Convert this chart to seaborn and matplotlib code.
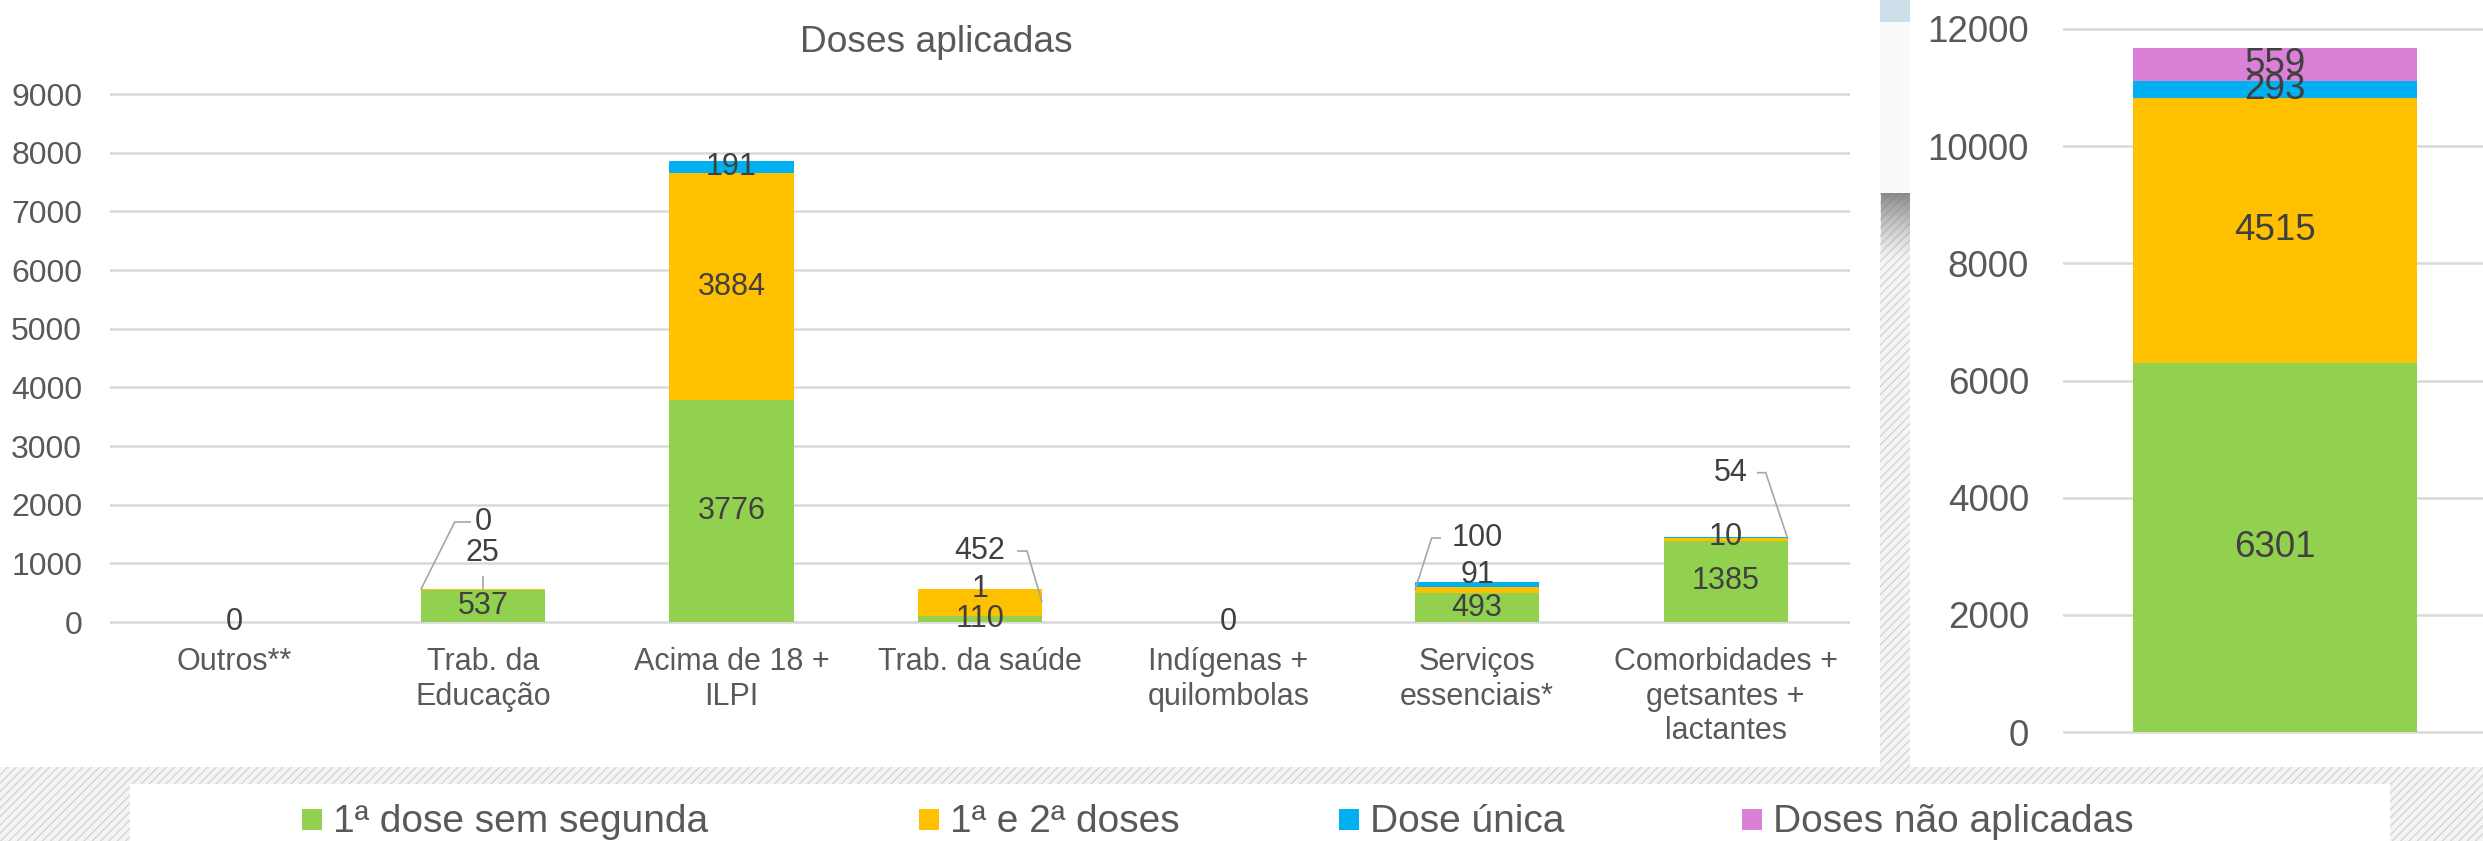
import numpy as np
import pandas as pd
import matplotlib
matplotlib.use("Agg")
import matplotlib.pyplot as plt
from matplotlib.patches import Rectangle
import seaborn as sns

# ---- data -------------------------------------------------------------
categories = [
    "Outros**",
    "Trab. da\nEducação",
    "Acima de 18 +\nILPI",
    "Trab. da saúde",
    "Indígenas +\nquilombolas",
    "Serviços\nessenciais*",
    "Comorbidades +\ngetsantes +\nlactantes",
]
primeira_sem_segunda = [0, 537, 3776, 110, 0, 493, 1385]
primeira_e_segunda = [0, 25, 3884, 452, 0, 100, 54]
dose_unica = [0, 0, 191, 1, 0, 91, 10]

total_category = ["Total"]
total_primeira = [6301]
total_ambas = [4515]
total_unica = [293]
total_nao_aplicadas = [559]

series_names = ["1ª dose sem segunda", "1ª e 2ª doses", "Dose única", "Doses não aplicadas"]
series_colors = ["#92D050", "#FFC000", "#00B0F0", "#DA80D6"]

title = "Doses aplicadas"
left_ticks = list(range(0, 9001, 1000))
right_ticks = list(range(0, 12001, 2000))

# ---- style ------------------------------------------------------------
sns.set_theme(style="white")
plt.rcParams["font.family"] = ["Liberation Sans", "DejaVu Sans"]
plt.rcParams["hatch.linewidth"] = 0.9

TICK_C = "#595959"
LABEL_C = "#404040"
GRID_C = "#d9d9d9"
LEADER_C = "#a6a6a6"

W, H = 2483, 841
fig = plt.figure(figsize=(W / 100, H / 100), dpi=100)
fig.patch.set_facecolor("white")


def px_box(x0, y0, x1, y1):
    """Figure-fraction box from pixel corners measured from the top-left."""
    return [x0 / W, 1 - y1 / H, (x1 - x0) / W, (y1 - y0) / H]


def bg_rect(x0, y0, x1, y1, z, **kw):
    b = px_box(x0, y0, x1, y1)
    fig.add_artist(Rectangle((b[0], b[1]), b[2], b[3], transform=fig.transFigure,
                             zorder=z, **kw))


# slide background: light diagonal hatch with white panels on top
bg_rect(0, 0, W, H, -30, facecolor="#f5f5f5", edgecolor="#d2d2d2", hatch="////", linewidth=0)
bg_rect(0, 0, 1880, 767, -20, facecolor="white", edgecolor="none")
bg_rect(1910, 0, W, 767, -20, facecolor="white", edgecolor="none")
bg_rect(130, 784, 2390, H, -20, facecolor="white", edgecolor="none")
bg_rect(1880, 0, 1910, 22, -20, facecolor="#cfdfea", edgecolor="none")
bg_rect(1880, 22, 1910, 193, -20, facecolor="#fafafa", edgecolor="none")

# dark shading fading down the divider strip
gax = fig.add_axes(px_box(1881, 193, 1910, 262))
gax.set_zorder(-10)
grad = np.zeros((64, 2, 4))
grad[..., :3] = 0.45
grad[..., 3] = np.linspace(0.85, 0.0, 64)[:, None] ** 1.3
gax.imshow(grad, aspect="auto", interpolation="bilinear")
gax.axis("off")

# ---- left chart: stacked bars by group --------------------------------
ax = fig.add_axes(px_box(110, 80, 1850, 640))
ax.set_facecolor("none")
k_left = 528 / 9000  # pixels per dose

g = np.array(primeira_sem_segunda)
y = np.array(primeira_e_segunda)
b = np.array(dose_unica)
df = pd.DataFrame({
    "grupo": categories,
    "c1": g,
    "c2": g + y,
    "c3": g + y + b,
})
for col, color in [("c3", series_colors[2]), ("c2", series_colors[1]), ("c1", series_colors[0])]:
    sns.barplot(data=df, x="grupo", y=col, order=categories, color=color, saturation=1,
                width=0.5, errorbar=None, linewidth=0, ax=ax)

ax.set_ylim(-(640 - 622) / k_left, (622 - 80) / k_left)
ax.set_xlim(-0.5, len(categories) - 0.5)
ax.set_yticks(left_ticks)
ax.set_yticklabels([str(t) for t in left_ticks])
ax.yaxis.grid(True, color=GRID_C, linewidth=1.8)
ax.set_axisbelow(True)
for s in ax.spines.values():
    s.set_visible(False)
ax.tick_params(axis="y", length=0, pad=20, labelsize=23, labelcolor=TICK_C)
ax.tick_params(axis="x", length=0, pad=5, labelsize=22, labelcolor=TICK_C)
ax.set_xlabel("")
ax.set_ylabel("")

LBL = 22


def label(axis, x, yv, txt, size=LBL):
    axis.text(x, yv, txt, ha="center", va="center", fontsize=size, color=LABEL_C,
              clip_on=False, zorder=5)


def leader(axis, xs, ys):
    axis.plot(xs, ys, color=LEADER_C, linewidth=1.2, clip_on=False, zorder=4,
              solid_capstyle="butt")


# labels with callout lines: (group, series) -> (label x, label y, path)
callouts = {
    (1, 2): (1.0, 1705, [(0.952, 1705), (0.887, 1705), (0.75, 550)]),
    (1, 1): (1.0, 1176, [(1.0, 790), (1.0, 562)]),
    (3, 1): (3.0, 1210, [(3.149, 1210), (3.189, 1210), (3.25, 336)]),
    (5, 1): (5.0, 1432, [(4.855, 1432), (4.817, 1432), (4.75, 543)]),
    (6, 1): (6.02, 2545, [(6.125, 2545), (6.161, 2545), (6.25, 1412)]),
}
nudged = {(5, 2): 800}

for i in range(len(categories)):
    vals = [g[i], y[i], b[i]]
    if sum(vals) == 0:
        label(ax, i, 0, "0")
        continue
    base = 0
    for s, v in enumerate(vals):
        centre = base + v / 2
        base += v
        if (i, s) in callouts:
            lx, ly, path = callouts[(i, s)]
            label(ax, lx, ly, str(v))
            xs, ys = zip(*path)
            leader(ax, xs, ys)
        elif (i, s) in nudged:
            label(ax, i, nudged[(i, s)], str(v))
        else:
            label(ax, i, centre, str(v))

# ---- right chart: overall totals --------------------------------------
ax2 = fig.add_axes(px_box(2063, 15, 2483, 745))
ax2.set_facecolor("none")
k_right = 703 / 12000
t_vals = [total_primeira[0], total_ambas[0], total_unica[0], total_nao_aplicadas[0]]
cum = np.cumsum(t_vals)
for j in range(3, -1, -1):
    sns.barplot(x=total_category, y=[cum[j]], color=series_colors[j], saturation=1,
                width=0.674, errorbar=None, linewidth=0, ax=ax2)
ax2.set_ylim(-(745 - 732) / k_right, (732 - 15) / k_right)
ax2.set_xlim(-0.5048, 0.4952)
ax2.set_yticks(right_ticks)
ax2.set_yticklabels([str(t) for t in right_ticks])
ax2.set_xticks([])
ax2.yaxis.grid(True, color=GRID_C, linewidth=1.8)
ax2.set_axisbelow(True)
for s in ax2.spines.values():
    s.set_visible(False)
ax2.tick_params(axis="y", length=0, pad=24.5, labelsize=26.5, labelcolor=TICK_C)
ax2.set_xlabel("")
ax2.set_ylabel("")
base = 0
for v in t_vals:
    label(ax2, 0, base + v / 2, str(v), size=26.5)
    base += v

# ---- title ---------------------------------------------------------------
fig.text(936 / W, 1 - 52 / H, title, ha="center", va="baseline", fontsize=26.7, color=TICK_C)

# ---- legend ------------------------------------------------------------
legend_x = [302, 919, 1339, 1742]
for name, color, x0 in zip(series_names, series_colors, legend_x):
    bx = px_box(x0, 809, x0 + 20, 830)
    fig.add_artist(Rectangle((bx[0], bx[1]), bx[2], bx[3], transform=fig.transFigure,
                             facecolor=color, edgecolor="none", zorder=5))
    fig.text((x0 + 31) / W, 1 - 832 / H, name, ha="left", va="baseline",
             fontsize=28, color=TICK_C)

fig.savefig("out.png", dpi=100, facecolor=fig.get_facecolor())
